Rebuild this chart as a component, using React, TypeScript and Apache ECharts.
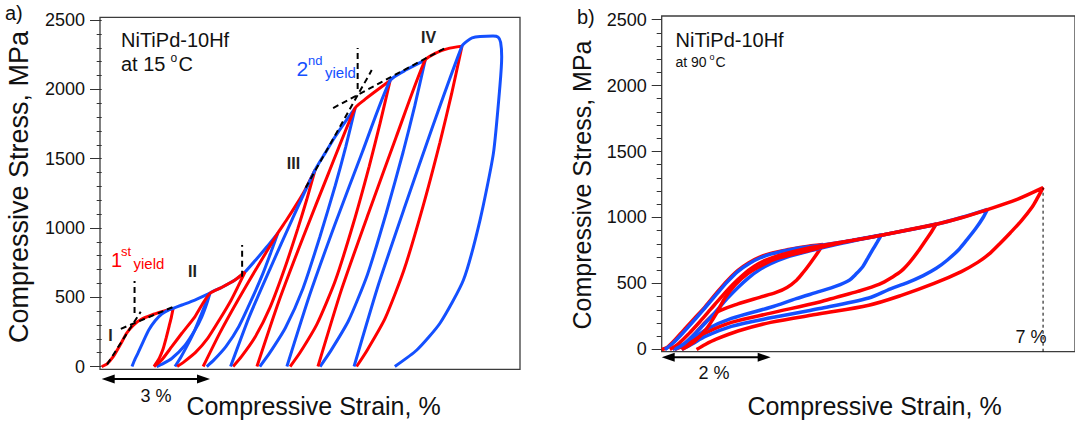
import React, { useEffect, useRef } from 'react';
import * as echarts from 'echarts';

const RED = '#ff0000';
const BLUE = '#1450ff';
const FONT = '"Liberation Sans", Arial, Helvetica, sans-serif';

// ---------- tick values ----------
const majorTicks = [0, 500, 1000, 1500, 2000, 2500];
const minorTicks = [0, 100, 200, 300, 400, 500, 600, 700, 800, 900, 1000, 1100, 1200, 1300, 1400, 1500, 1600, 1700, 1800, 1900, 2000, 2100, 2200, 2300, 2400, 2500];

// ---------- panel a) NiTiPd-10Hf at 15 C : [strain %, stress MPa] ----------
const aCycle1 = [[0, 0], [0.14, 18], [0.32, 71], [0.51, 155], [0.69, 240], [0.88, 299], [1.11, 343], [1.39, 372], [1.66, 395], [1.98, 420],
  [1.93, 357], [1.87, 294], [1.79, 210], [1.70, 126], [1.60, 63], [1.50, 21], [1.45, 0]];
const aCycle2 = [[0.84, 0], [0.90, 40], [1.01, 100], [1.15, 180], [1.30, 262], [1.48, 330], [1.66, 378], [1.82, 404], [1.98, 420], [2.22, 444], [2.58, 480], [3.0, 530],
  [2.91, 453], [2.77, 357], [2.58, 261], [2.31, 154], [1.94, 58], [1.70, 21], [1.52, 0]];
const aCycle3 = [[1.45, 0], [1.66, 47], [1.94, 143], [2.22, 240], [2.58, 359], [2.80, 455], [3.0, 528], [3.32, 570], [3.69, 624], [3.97, 682],
  [3.78, 580], [3.58, 477], [3.27, 341], [2.94, 205], [2.60, 102], [2.28, 34], [2.09, 0]];
const aCycle4 = [[2.03, 0], [2.2, 71], [2.4, 167], [2.58, 263], [2.77, 384], [2.92, 480], [3.0, 530], [3.32, 570], [3.69, 624], [3.97, 682], [4.29, 776], [4.57, 862], [4.88, 963],
  [4.68, 819], [4.47, 674], [4.15, 482], [3.80, 289], [3.44, 144], [3.11, 48], [2.91, 0]];
const aCycle5 = [[2.81, 0], [3.27, 241], [3.78, 482], [4.32, 722], [4.88, 963], [5.12, 1057], [5.40, 1172], [5.63, 1273], [5.91, 1418],
  [5.68, 1205], [5.43, 993], [5.07, 709], [4.66, 425], [4.25, 213], [3.87, 71], [3.64, 0]];
const aCycle6 = [[3.57, 0], [4.08, 355], [4.67, 709], [5.28, 1064], [5.91, 1418], [6.19, 1540], [6.46, 1656], [6.74, 1764], [7.02, 1865],
  [6.76, 1585], [6.47, 1306], [6.04, 933], [5.57, 560], [5.09, 280], [4.64, 93], [4.38, 0]];
const aCycle7 = [[4.30, 0], [4.90, 466], [5.58, 933], [6.29, 1399], [7.02, 1865], [7.27, 1923], [7.54, 1977], [7.99, 2064],
  [7.71, 1754], [7.41, 1445], [6.97, 1032], [6.47, 619], [5.97, 310], [5.50, 103], [5.22, 0]];
const aCycle8 = [[5.13, 0], [5.76, 516], [6.47, 1032], [7.22, 1548], [7.99, 2064], [8.45, 2143], [8.96, 2211],
  [8.67, 1879], [8.35, 1548], [7.88, 1106], [7.36, 663], [6.84, 332], [6.34, 111], [6.05, 0]];
const aCycle9 = [[5.99, 0], [6.64, 553], [7.39, 1106], [8.16, 1658], [8.96, 2211], [9.29, 2266], [9.59, 2294], [9.98, 2312],
  [9.69, 1965], [9.37, 1618], [8.90, 1156], [8.37, 694], [7.85, 347], [7.35, 116], [7.06, 0]];
const aCycle10 = [[6.99, 0], [7.65, 578], [8.40, 1156], [9.17, 1734], [9.98, 2312], [10.13, 2350], [10.26, 2372], [10.48, 2382], [10.84, 2385], [10.98, 2377], [11.05, 2340], [11.08, 2235],
  [11.03, 2022], [10.85, 1538], [10.48, 1057], [10.02, 624], [9.37, 312], [8.73, 119], [8.12, 0]];

// dashed construction lines in panel a
const aYield1Slope = [[0.15, 15], [1.08, 395]];
const aYield1Plateau = [[0.53, 272], [1.96, 428]];
const aYield1Mark = [[0.91, 386], [0.91, 617]];
const aStage2Mark = [[3.89, 648], [3.89, 877]];
const aStage3Slope = [[5.65, 1290], [7.48, 2139]];
const aStage4Slope = [[6.41, 1865], [9.51, 2298]];
const aYield2Mark = [[7.09, 2002], [7.09, 2298]];

// ---------- panel b) NiTiPd-10Hf at 90 C ----------
const bCycle1 = [[0, 0], [0.1, 15], [0.25, 75], [0.4, 145], [0.6, 235], [0.8, 325], [1.0, 425], [1.2, 520], [1.4, 600], [1.6, 658], [1.8, 700], [2.0, 728], [2.3, 755], [2.6, 777], [2.96, 795],
  [2.85, 725], [2.72, 650], [2.6, 585], [2.48, 527], [2.3, 470], [2.1, 432], [1.8, 395], [1.4, 345], [1.0, 280], [0.81, 210], [0.6, 115], [0.45, 45], [0.36, 0]];
const bCycle2 = [[0.06, 0], [0.2, 45], [0.4, 130], [0.6, 222], [0.8, 318], [1.0, 415], [1.2, 510], [1.4, 592], [1.6, 650], [1.8, 693], [2.0, 722], [2.4, 760], [2.96, 792], [3.5, 828], [4.03, 867],
  [3.95, 810], [3.87, 754], [3.78, 690], [3.69, 627], [3.55, 565], [3.45, 527], [3.2, 480], [2.9, 440], [2.47, 385], [2.0, 320], [1.28, 235], [0.81, 150], [0.5, 60], [0.2, 0]];
const bCycle3 = [[0.15, 0], [0.3, 40], [0.5, 120], [0.7, 210], [0.9, 305], [1.1, 400], [1.3, 490], [1.5, 568], [1.7, 630], [1.9, 675], [2.2, 718], [2.6, 760], [3.0, 792], [3.5, 826], [4.03, 866], [4.5, 905], [5.04, 951],
  [4.95, 890], [4.85, 830], [4.7, 740], [4.55, 660], [4.4, 595], [4.24, 550], [4.0, 495], [3.6, 440], [3.2, 395], [2.9, 360], [2.0, 275], [1.28, 205], [0.81, 125], [0.5, 45], [0.24, 0]];
const bCycle4 = [[0.24, 0], [0.4, 40], [0.6, 115], [0.8, 200], [1.0, 290], [1.2, 385], [1.4, 470], [1.6, 545], [1.8, 605], [2.0, 650], [2.3, 700], [2.7, 745], [3.1, 785], [3.5, 822], [4.03, 865], [4.5, 903], [5.04, 949], [5.5, 1000], [5.98, 1062],
  [5.9, 1000], [5.77, 920], [5.6, 830], [5.46, 760], [5.25, 680], [5.04, 615], [4.8, 560], [4.5, 505], [4.2, 460], [3.8, 390], [2.9, 310], [2.0, 240], [1.28, 175], [0.81, 100], [0.55, 40], [0.37, 0]];
const bCycle5 = [[0.37, 0], [0.6, 60], [0.81, 150], [1.0, 270], [1.16, 390], [1.35, 490], [1.58, 575], [1.85, 640], [2.12, 690], [2.72, 752], [3.2, 800], [3.5, 825], [4.03, 865], [4.5, 903], [5.04, 949], [5.5, 998], [5.98, 1060], [6.5, 1133], [7.0, 1226],
  [6.9, 1150], [6.8, 1080], [6.6, 975], [6.4, 885], [6.2, 800], [6.0, 720], [5.8, 660], [5.5, 590], [5.0, 500], [4.4, 410], [3.8, 335], [2.9, 270], [2.0, 205], [1.4, 140], [1.0, 78], [0.8, 38], [0.64, 0]];
const bMaxStrainMark = [[7.0, -17], [7.0, 1226]];

const aCycles = [
  { data: aCycle1, color: RED }, { data: aCycle2, color: BLUE }, { data: aCycle4, color: BLUE }, { data: aCycle3, color: RED },
  { data: aCycle5, color: RED }, { data: aCycle6, color: BLUE }, { data: aCycle7, color: RED }, { data: aCycle8, color: BLUE },
  { data: aCycle9, color: RED }, { data: aCycle10, color: BLUE },
];
const aDashed = [aYield1Slope, aYield1Plateau, aYield1Mark, aStage2Mark, aStage3Slope, aStage4Slope, aYield2Mark];
const bCycles = [
  { data: bCycle1, color: RED }, { data: bCycle2, color: BLUE }, { data: bCycle3, color: RED },
  { data: bCycle4, color: BLUE }, { data: bCycle5, color: RED },
];

function yAxes(gridIndex: number, min: number, max: number) {
  const base = {
    gridIndex, type: 'value', min, max, position: 'left',
    axisLine: { show: false }, splitLine: { show: false },
  };
  return [
    {
      ...base,
      axisTick: { show: true, length: 5, customValues: minorTicks, lineStyle: { color: '#333', width: 1 } },
      axisLabel: { show: false },
    },
    {
      ...base,
      axisTick: { show: true, length: 10, customValues: majorTicks, lineStyle: { color: '#333', width: 1 } },
      axisLabel: {
        show: true, customValues: majorTicks, margin: 15, fontSize: 18, fontFamily: FONT, color: '#111',
        formatter: (v: number) => String(v),
      },
    },
  ];
}

function txt(text: string, x: number, y: number, size: number, o: any = {}) {
  const align = o.align || 'left';
  return {
    type: 'text', x, y, z: 100, rotation: o.rotation || 0,
    style: {
      text, fill: o.color || '#111',
      font: `${o.bold ? 'bold ' : ''}${size}px ${FONT}`,
      align, verticalAlign: 'middle', textAlign: align, textVerticalAlign: 'middle',
    },
  };
}

function arrow(x1: number, x2: number, y: number) {
  return [
    { type: 'line', z: 100, shape: { x1: x1 + 8, y1: y, x2: x2 - 8, y2: y }, style: { stroke: '#000', lineWidth: 2 } },
    { type: 'polygon', z: 100, shape: { points: [[x1, y], [x1 + 13, y - 4.5], [x1 + 13, y + 4.5]] }, style: { fill: '#000' } },
    { type: 'polygon', z: 100, shape: { points: [[x2, y], [x2 - 13, y - 4.5], [x2 - 13, y + 4.5]] }, style: { fill: '#000' } },
  ];
}

export default function App() {
  const ref = useRef<HTMLDivElement>(null);
  useEffect(() => {
    const chart = echarts.init(ref.current!, null, { renderer: 'svg' });
    const series: any[] = [];
    aCycles.forEach((c) => series.push({
      type: 'line', xAxisIndex: 0, yAxisIndex: 0, data: c.data, showSymbol: false, symbol: 'none', smooth: 0.2,
      lineStyle: { color: c.color, width: 3 }, silent: true,
    }));
    aDashed.forEach((d) => series.push({
      type: 'line', xAxisIndex: 0, yAxisIndex: 0, data: d, showSymbol: false, symbol: 'none',
      lineStyle: { color: '#000', width: 2, type: [6, 4] }, silent: true, z: 3,
    }));
    bCycles.forEach((c) => series.push({
      type: 'line', xAxisIndex: 1, yAxisIndex: 2, data: c.data, showSymbol: false, symbol: 'none', smooth: 0.3,
      lineStyle: { color: c.color, width: 3.5 }, silent: true,
    }));
    series.push({
      type: 'line', xAxisIndex: 1, yAxisIndex: 2, data: bMaxStrainMark, showSymbol: false, symbol: 'none',
      lineStyle: { color: '#000', width: 1, type: [3, 3] }, silent: true,
    });

    chart.setOption({
      animation: false,
      grid: [
        { left: 100, top: 17.3, width: 420, height: 352, show: true, borderColor: '#3c3c3c', borderWidth: 1.3, backgroundColor: 'transparent' },
        { left: 661.7, top: 16, width: 423, height: 335.7, show: true, borderColor: '#3c3c3c', borderWidth: 1.3, backgroundColor: 'transparent' },
      ],
      xAxis: [
        { gridIndex: 0, type: 'value', min: -0.047, max: 11.587, show: false },
        { gridIndex: 1, type: 'value', min: 0, max: 7.586, show: false },
      ],
      yAxis: [...yAxes(0, -20, 2520), ...yAxes(1, -17, 2527)],
      series,
    });

    const a0 = chart.convertToPixel({ gridIndex: 0 }, [0, 0]) as number[];
    const a3 = chart.convertToPixel({ gridIndex: 0 }, [3, 0]) as number[];
    const b0 = chart.convertToPixel({ xAxisIndex: 1, yAxisIndex: 2 }, [0, 0]) as number[];
    const b2 = chart.convertToPixel({ xAxisIndex: 1, yAxisIndex: 2 }, [2, 0]) as number[];

    chart.setOption({
      graphic: [
        txt('a)', 5, 13, 20),
        txt('b)', 577, 16.5, 20),
        txt('Compressive Stress, MPa', 18.5, 187, 27, { align: 'center', rotation: Math.PI / 2 }),
        txt('Compressive Stress, MPa', 581.5, 185, 25, { align: 'center', rotation: Math.PI / 2 }),
        txt('Compressive Strain, %', 313.5, 406, 25, { align: 'center' }),
        txt('Compressive Strain, %', 874.5, 406, 25, { align: 'center' }),
        txt('NiTiPd-10Hf', 121, 40, 20),
        txt('at 15', 121, 63.5, 20),
        txt('o', 170.5, 58, 12),
        txt('C', 178.5, 63.5, 20),
        txt('NiTiPd-10Hf', 675.5, 39.5, 20),
        txt('at 90', 675.5, 61.5, 14),
        txt('o', 709.5, 57, 9),
        txt('C', 715.5, 61.5, 14),
        txt('1', 111, 260, 20, { color: RED }),
        txt('st', 121, 251, 13, { color: RED }),
        txt('yield', 133.5, 263, 15, { color: RED }),
        txt('2', 296.5, 68, 21, { color: BLUE }),
        txt('nd', 308, 60.5, 13, { color: BLUE }),
        txt('yield', 325, 72, 15, { color: BLUE }),
        txt('I', 110.5, 335.5, 16, { bold: true, align: 'center', color: '#222' }),
        txt('II', 192.5, 271, 16, { bold: true, align: 'center', color: '#222' }),
        txt('III', 293.5, 163.5, 16, { bold: true, align: 'center', color: '#222' }),
        txt('IV', 428.5, 37.5, 16, { bold: true, align: 'center', color: '#222' }),
        txt('3 %', 156, 396, 18, { align: 'center' }),
        txt('2 %', 714, 372.5, 18, { align: 'center' }),
        txt('7 %', 1046.5, 337, 18, { align: 'right' }),
        ...arrow(a0[0], a3[0], 379),
        ...arrow(b0[0], b2[0], 357.3),
      ],
    });
    return () => chart.dispose();
  }, []);
  return <div ref={ref} style={{ position: 'absolute', left: 0, top: 0, width: 1075, height: 426, overflow: 'hidden', background: '#fff' }} />;
}
